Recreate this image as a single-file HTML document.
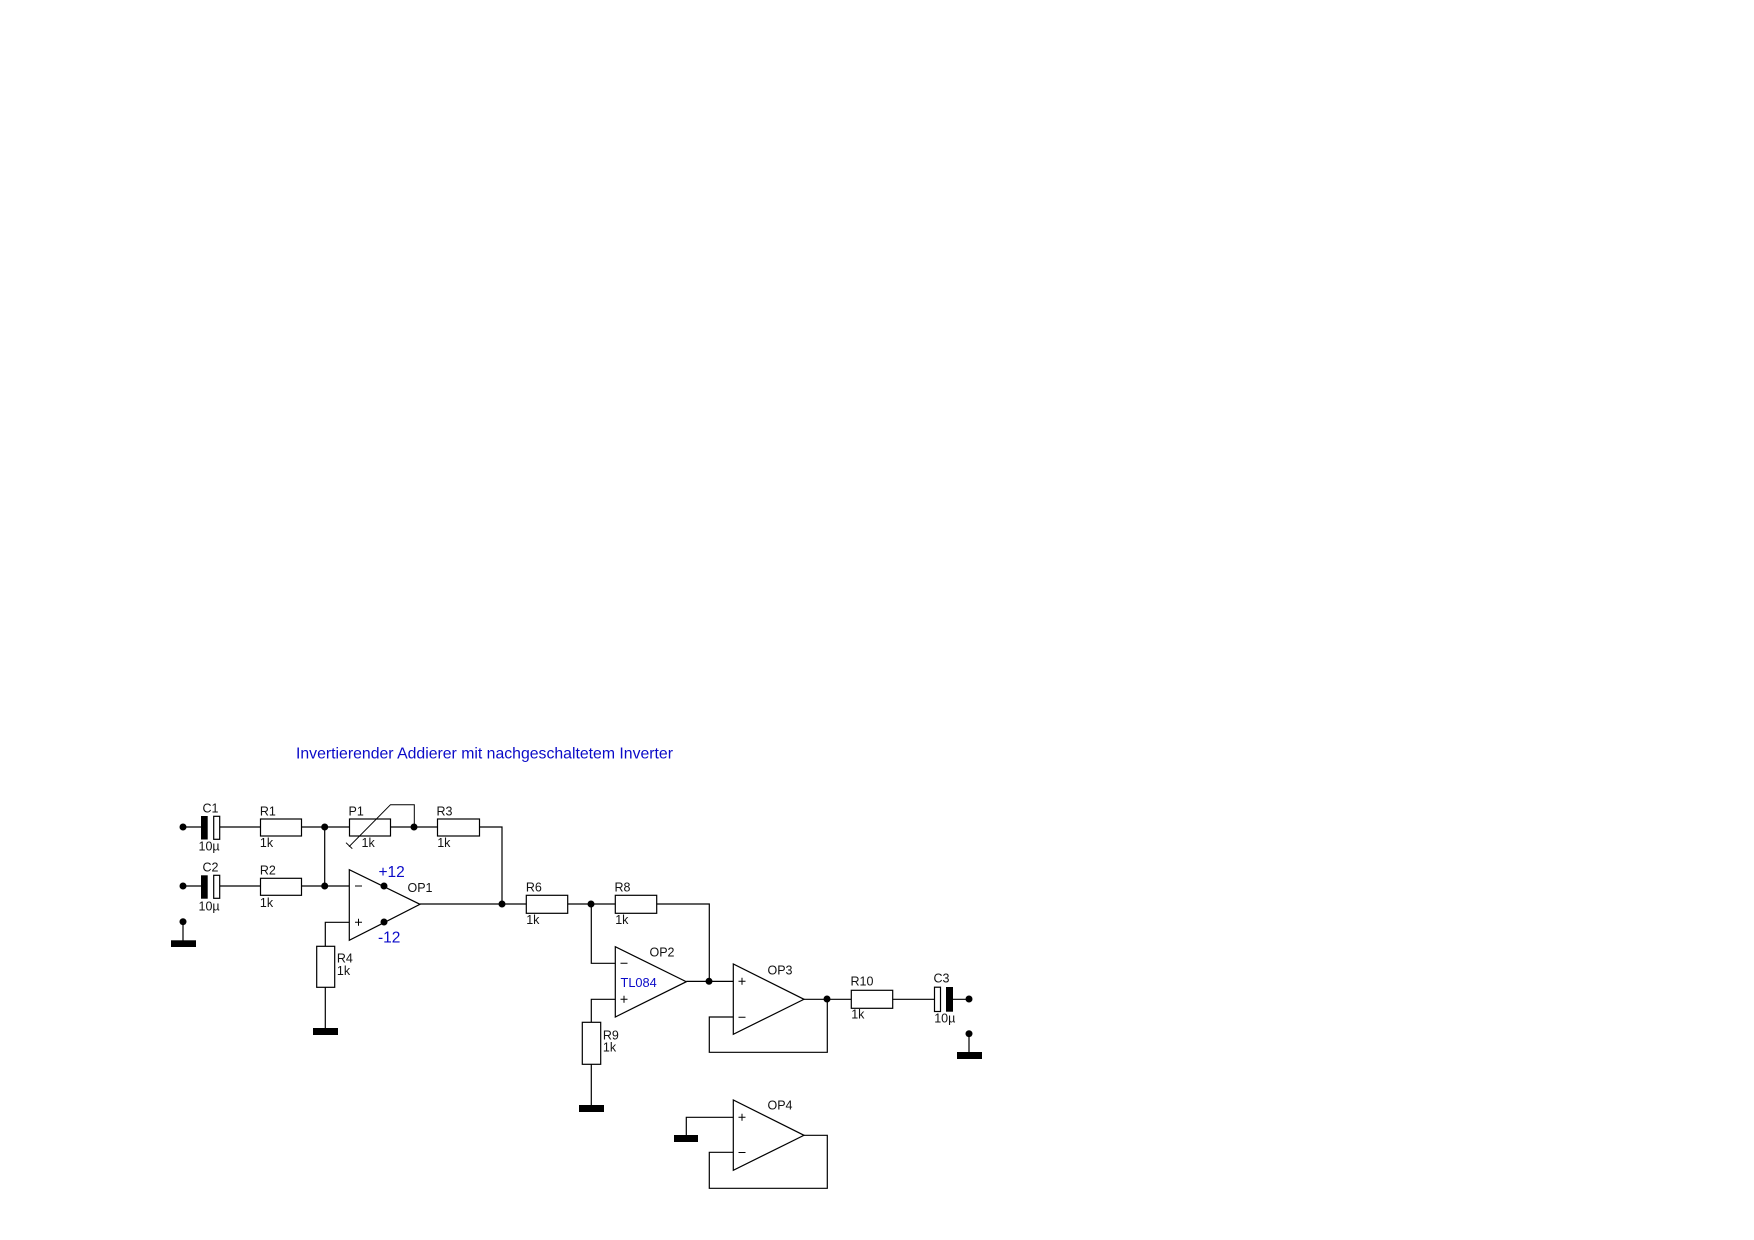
<!DOCTYPE html>
<html>
<head>
<meta charset="utf-8">
<style>
html,body{margin:0;padding:0;background:#fff;width:1754px;height:1240px;overflow:hidden}
svg{display:block}
text{font-family:"Liberation Sans",Arial,sans-serif;font-size:12.5px;fill:#111}
.b{fill:#0a0ac8}
</style>
</head>
<body>
<svg width="1754" height="1240" viewBox="0 0 1754 1240" xmlns="http://www.w3.org/2000/svg">
<rect width="1754" height="1240" fill="#fff"/>
<g fill="none" stroke="#000" stroke-width="1.2">
<!-- wires -->
<path d="M183 827H201M219.7 827H260.5M301.5 827H349.5M390.5 827H437.5M479.5 827H502V904"/>
<path d="M183 886H201M219.7 886H260.5M301.5 886H349.5M324.7 827V886"/>
<path d="M349.3 922.3H325.3V946.3M325.3 987.3V1028"/>
<path d="M183 922V941"/>
<path d="M420 904H526.3M567.7 904H615.3M656.7 904H709.3V981.4"/>
<path d="M591.3 904V963.3H615.3M615.3 999.3H591.3V1022.3M591.3 1064.3V1105"/>
<path d="M686.3 981.4H733.3"/>
<path d="M733.3 1017H709.3V1052.3H827.3V999.3"/>
<path d="M804 999.3H851.3M892.7 999.3H934.3M953 999.3H969"/>
<path d="M969 1034V1052"/>
<path d="M733.3 1117.3H686.3V1135"/>
<path d="M733.3 1152.3H709.3V1188.3H827.3V1135.3H804"/>
<!-- P1 arrow -->
<path d="M414.3 827V804.7H390.5L349 846.7M346 842.7L352.3 848.7" stroke-width="1"/>
<!-- resistors -->
<rect x="260.5" y="819" width="41" height="17"/>
<rect x="349.5" y="819" width="41" height="17"/>
<rect x="437.5" y="819" width="42" height="17"/>
<rect x="260.5" y="878.3" width="41" height="17"/>
<rect x="316.7" y="946.3" width="18" height="41"/>
<rect x="526.3" y="895.3" width="41.4" height="18"/>
<rect x="615.3" y="895.3" width="41.4" height="18"/>
<rect x="582.3" y="1022.3" width="18.4" height="42"/>
<rect x="851.3" y="990.3" width="41.4" height="18"/>
<!-- capacitor white plates -->
<rect x="213.7" y="816.3" width="6" height="23"/>
<rect x="213.7" y="875.3" width="6" height="23"/>
<rect x="934.5" y="987.2" width="6" height="24.3"/>
<!-- op amps -->
<path d="M349.3 869.7V940.3L420 904.3Z"/>
<path d="M615.3 946.7V1017L686.3 981.7Z"/>
<path d="M733.3 964V1034.3L804 999.3Z"/>
<path d="M733.3 1100V1170.3L804 1135.3Z"/>
<!-- plus/minus -->
<g stroke-width="1">
<path d="M355 886H362M355 922.3H362M358.5 918.8V925.8"/>
<path d="M620.5 963.3H627.5M620.5 999.3H627.5M624 995.8V1002.8"/>
<path d="M738.5 981.3H745.5M742 977.8V984.8M738.5 1017.3H745.5"/>
<path d="M738.5 1117.3H745.5M742 1113.8V1120.8M738.5 1152.5H745.5"/>
</g>
</g>
<g fill="#000">
<!-- capacitor black plates -->
<rect x="201" y="816" width="6.7" height="23.5"/>
<rect x="201" y="875.3" width="6.7" height="23.4"/>
<rect x="946" y="987" width="7" height="24.7"/>
<!-- ground bars -->
<rect x="171" y="940.3" width="25" height="6.7"/>
<rect x="313" y="1028" width="25" height="7"/>
<rect x="579" y="1105" width="25" height="7"/>
<rect x="957" y="1052" width="25" height="7"/>
<rect x="674" y="1135" width="24" height="7"/>
<!-- dots -->
<circle cx="183" cy="827" r="3.5"/>
<circle cx="183" cy="886" r="3.5"/>
<circle cx="183" cy="921.7" r="3.5"/>
<circle cx="324.7" cy="827" r="3.5"/>
<circle cx="324.7" cy="886" r="3.5"/>
<circle cx="414" cy="827" r="3.5"/>
<circle cx="384" cy="886" r="3.5"/>
<circle cx="384" cy="922" r="3.5"/>
<circle cx="502" cy="904" r="3.5"/>
<circle cx="591" cy="904" r="3.5"/>
<circle cx="709" cy="981.3" r="3.5"/>
<circle cx="827" cy="999" r="3.5"/>
<circle cx="969" cy="999" r="3.5"/>
<circle cx="969" cy="1033.7" r="3.5"/>
</g>
<!-- labels -->
<text class="b" x="296" y="762" style="font-size:16px" textLength="377" lengthAdjust="spacingAndGlyphs" transform="translate(0,-3.5)">Invertierender Addierer mit nachgeschaltetem Inverter</text>
<g transform="translate(-0.8,0)">
<text x="203.3" y="812.3">C1</text>
<text x="260.7" y="815.3">R1</text>
<text x="349.3" y="815.3">P1</text>
<text x="437.3" y="815.3">R3</text>
<text x="260.7" y="847">1k</text>
<text x="362.3" y="847">1k</text>
<text x="438" y="847">1k</text>
<text x="199.3" y="850.3">10µ</text>
<text x="203.3" y="871.3">C2</text>
<text x="260.7" y="874.3">R2</text>
<text x="260.7" y="907">1k</text>
<text x="199.3" y="910.3">10µ</text>
<text x="408.3" y="892">OP1</text>
<text x="337.7" y="962.7">R4</text>
<text x="337.7" y="975">1k</text>
<text x="526.7" y="891.7">R6</text>
<text x="615.3" y="891.7">R8</text>
<text x="527" y="924">1k</text>
<text x="616" y="924">1k</text>
<text x="650.3" y="956.7">OP2</text>
<text class="b" x="621.3" y="987" style="font-size:12.8px">TL084</text>
<text x="768.3" y="974.7">OP3</text>
<text x="851.3" y="985.7">R10</text>
<text x="852" y="1018.7">1k</text>
<text x="934.3" y="982.7">C3</text>
<text x="935" y="1022.3">10µ</text>
<text x="603.7" y="1039.3">R9</text>
<text x="603.7" y="1051.3">1k</text>
<text x="768.3" y="1109.7">OP4</text>
</g>
<text class="b" x="378.5" y="877" style="font-size:15.5px">+12</text>
<text class="b" x="378" y="942.3" style="font-size:15.5px">-12</text>
</svg>
</body>
</html>
